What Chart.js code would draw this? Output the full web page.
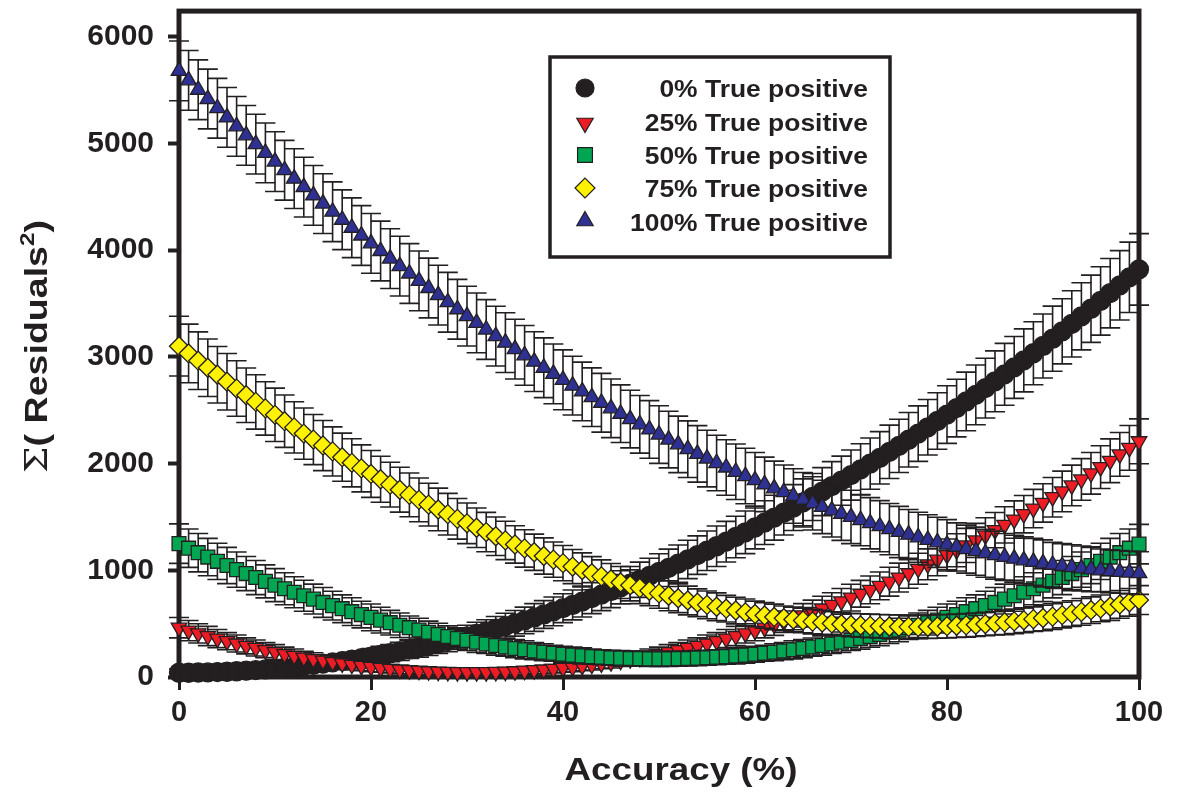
<!DOCTYPE html>
<html>
<head>
<meta charset="utf-8">
<script src="https://cdn.jsdelivr.net/npm/chart.js@4/dist/chart.umd.min.js"></script>
<style>
html,body{margin:0;padding:0;background:#ffffff;}
canvas{display:block;}
</style>
</head>
<body>
<canvas id="c" width="1179" height="800"></canvas>
<script>
// ---------- DATA ----------
const accuracy = [0,1,2,3,4,5,6,7,8,9,10,11,12,13,14,15,16,17,18,19,20,21,22,23,24,25,26,27,28,29,30,31,32,33,34,35,36,37,38,39,40,41,42,43,44,45,46,47,48,49,50,51,52,53,54,55,56,57,58,59,60,61,62,63,64,65,66,67,68,69,70,71,72,73,74,75,76,77,78,79,80,81,82,83,84,85,86,87,88,89,90,91,92,93,94,95,96,97,98,99,100];

const xTicks = [0, 20, 40, 60, 80, 100];
const yTicks = [0, 1000, 2000, 3000, 4000, 5000, 6000];

const seriesNames = ['0% True positive', '25% True positive', '50% True positive', '75% True positive', '100% True positive'];

const xTitle = 'Accuracy (%)';
const yTitleParts = ['\u03A3', '( Residuals', '2', ')'];

// 0% true positive
const tp0 = [40,40,42,43,46,49,54,59,64,71,
78,86,94,104,114,125,137,149,162,176,
191,207,223,240,258,276,296,316,336,358,
380,403,427,452,477,503,530,558,586,615,
645,675,707,739,772,805,840,875,911,948,
985,1023,1062,1102,1142,1183,1225,1268,1312,1356,
1401,1447,1493,1540,1588,1637,1687,1737,1788,1840,
1892,1946,2000,2054,2110,2166,2223,2281,2340,2399,
2459,2520,2582,2644,2707,2771,2836,2901,2967,3034,
3102,3170,3239,3309,3380,3451,3524,3597,3670,3745,
3820];
const tp0Err = [35,35,35,35,35,40,40,40,45,45,
50,50,50,55,60,60,65,65,70,70,
75,80,80,85,85,90,95,95,100,100,
105,110,110,115,120,120,125,130,130,135,
135,140,145,145,150,155,155,160,165,165,
170,175,175,180,180,185,190,190,195,200,
200,205,210,210,215,220,220,225,230,230,
235,240,240,245,250,250,255,260,260,265,
270,270,275,280,280,285,290,290,295,295,
300,305,305,310,315,315,320,325,325,330,
335];

// 25% true positive
const tp25 = [462,435,409,384,360,336,314,292,272,252,
233,215,198,182,167,153,139,127,115,104,
94,85,77,70,64,59,54,50,48,46,
45,45,46,48,50,54,59,64,70,77,
85,94,104,115,127,139,153,167,182,198,
215,233,252,272,292,314,336,360,384,409,
435,462,490,518,548,578,610,642,675,709,
744,780,817,854,893,932,972,1014,1056,1099,
1143,1188,1233,1280,1327,1376,1425,1475,1526,1578,
1631,1685,1739,1795,1851,1909,1967,2026,2086,2147,
2209];
const tp25Err = [95,95,90,90,85,80,80,75,75,70,
70,65,65,60,60,55,55,50,50,45,
45,40,40,40,35,35,35,30,30,30,
30,30,30,30,30,35,35,35,40,40,
40,45,45,50,50,55,55,60,60,65,
65,70,70,75,75,80,80,85,90,90,
95,95,100,100,105,110,110,115,115,120,
125,125,130,130,135,135,140,145,145,150,
150,155,160,160,165,165,170,175,175,180,
180,185,190,190,195,195,200,205,205,210,
210];

// 50% true positive
const tp50 = [1250,1207,1165,1124,1084,1045,1006,969,932,896,
861,827,794,761,730,699,669,640,612,585,
559,533,509,485,462,440,419,399,379,361,
343,326,310,295,281,267,255,243,232,222,
213,205,198,191,186,181,177,174,172,170,
170,170,172,174,177,181,186,191,198,205,
213,222,232,243,255,267,281,295,310,326,
343,361,379,399,419,440,462,485,509,533,
559,585,612,640,669,699,730,761,794,827,
861,896,932,969,1006,1045,1084,1124,1165,1207,
1245];
const tp50Err = [185,180,180,175,170,170,165,160,160,155,
155,150,145,145,140,140,135,130,130,125,
125,120,115,115,110,110,105,105,100,100,
95,95,90,90,85,85,85,80,80,75,
75,75,75,70,70,70,70,70,70,70,
70,70,70,70,70,70,70,70,75,75,
75,75,80,80,85,85,85,90,90,95,
95,100,100,105,105,110,110,115,115,120,
125,125,130,130,135,140,140,145,145,150,
155,155,160,160,165,170,170,175,180,180,
185];

// 75% true positive
const tp75 = [3100,3032,2964,2898,2832,2767,2703,2640,2578,2517,
2457,2397,2339,2281,2225,2169,2114,2060,2007,1955,
1903,1853,1803,1755,1707,1660,1615,1570,1526,1482,
1440,1399,1358,1319,1280,1242,1205,1169,1134,1100,
1067,1035,1003,973,943,914,886,859,833,808,
784,761,738,717,696,676,658,640,623,606,
591,577,563,551,539,529,519,510,502,495,
488,483,479,475,473,471,470,470,471,473,
476,480,484,490,496,503,512,521,531,542,
553,566,580,594,610,626,643,661,680,700,
721];
const tp75Err = [280,275,270,270,265,265,260,255,255,250,
250,245,240,240,235,235,230,225,225,220,
220,215,210,210,205,205,200,200,195,190,
190,185,185,180,180,175,175,170,170,165,
165,160,160,155,155,150,150,145,145,140,
140,140,135,135,130,130,130,125,125,125,
120,120,120,115,115,115,115,115,110,110,
110,110,110,110,110,110,110,110,110,110,
110,110,110,110,110,110,115,115,115,115,
120,120,120,120,125,125,125,130,130,130,
135];

// 100% true positive
const tp100 = [5680,5591,5503,5416,5330,5244,5160,5076,4993,4911,
4830,4749,4670,4591,4513,4436,4360,4285,4210,4137,
4064,3992,3921,3850,3781,3712,3645,3578,3512,3446,
3382,3319,3256,3194,3133,3073,3014,2955,2898,2841,
2785,2730,2676,2622,2570,2518,2467,2417,2368,2320,
2272,2225,2180,2135,2091,2047,2005,1963,1923,1883,
1844,1805,1768,1732,1696,1661,1627,1594,1562,1530,
1500,1470,1441,1413,1386,1359,1334,1309,1285,1262,
1240,1219,1198,1179,1160,1142,1125,1109,1093,1079,
1065,1052,1040,1029,1018,1009,1000,992,985,979,
974];
const tp100Err = [280,280,280,280,280,280,280,280,280,280,
280,280,280,280,280,280,280,280,280,280,
280,280,280,280,280,280,280,280,280,280,
280,280,280,280,280,280,280,280,280,280,
280,275,275,275,275,275,270,270,270,270,
270,265,265,265,265,265,260,260,260,260,
260,255,255,255,255,255,250,250,250,250,
250,240,240,240,240,240,235,235,235,235,
235,225,225,225,225,225,220,220,220,220,
220,210,210,210,210,210,200,200,200,200,
200];

// ---------- STYLE ----------
const DARK = '#231f20';
const FONT = '"Liberation Sans", Arial, Helvetica, sans-serif';
const seriesValues = [tp0, tp25, tp50, tp75, tp100];
const seriesErrors = [tp0Err, tp25Err, tp50Err, tp75Err, tp100Err];
const seriesStyle = [
  {pointStyle: 'circle',   rotation: 0,   radius: 9.5, legendRadius: 9,    color: '#231f20'},
  {pointStyle: 'triangle', rotation: 180, radius: 9,   legendRadius: 9.5,  color: '#ed1c24'},
  {pointStyle: 'rect',     rotation: 0,   radius: 9.8, legendRadius: 10.5, color: '#00a651'},
  {pointStyle: 'rectRot',  rotation: 0,   radius: 9.5, legendRadius: 10,   color: '#fff200'},
  {pointStyle: 'triangle', rotation: 0,   radius: 9,   legendRadius: 9.5,  color: '#2e3192'}
];

const datasets = seriesValues.map((vals, s) => ({
  label: seriesNames[s],
  data: accuracy.map((x, i) => ({x: x, y: vals[i]})),
  showLine: false,
  pointStyle: seriesStyle[s].pointStyle,
  pointRotation: seriesStyle[s].rotation,
  pointRadius: seriesStyle[s].radius,
  pointHoverRadius: seriesStyle[s].radius,
  pointBackgroundColor: seriesStyle[s].color,
  pointBorderColor: DARK,
  pointBorderWidth: 1.3,
  backgroundColor: seriesStyle[s].color,
  borderColor: DARK,
  clip: false,
  order: seriesValues.length - 1 - s
}));

// error bars, drawn just before each series' markers
const errorBarPlugin = {
  id: 'errorBars',
  beforeDatasetDraw(chart, args) {
    const idx = args.index;
    const errs = seriesErrors[idx];
    const vals = seriesValues[idx];
    const ys = chart.scales.y;
    const ctx = chart.ctx;
    ctx.save();
    ctx.strokeStyle = DARK;
    ctx.lineWidth = 1.6;
    args.meta.data.forEach((pt, i) => {
      const top = ys.getPixelForValue(vals[i] + errs[i]);
      const bot = ys.getPixelForValue(vals[i] - errs[i]);
      const x = pt.x;
      ctx.beginPath();
      ctx.moveTo(x, top); ctx.lineTo(x, bot);
      ctx.moveTo(x - 10, top); ctx.lineTo(x + 10, top);
      ctx.moveTo(x - 10, bot); ctx.lineTo(x + 10, bot);
      ctx.stroke();
    });
    ctx.restore();
  }
};

// frame (full box) drawn under the data
const framePlugin = {
  id: 'frame',
  beforeDatasetsDraw(chart) {
    const ca = chart.chartArea;
    const ctx = chart.ctx;
    ctx.save();
    ctx.strokeStyle = DARK;
    ctx.lineWidth = 5;
    ctx.lineJoin = 'miter';
    ctx.strokeRect(ca.left, ca.top, ca.right - ca.left, ca.bottom - ca.top);
    ctx.restore();
  }
};

function drawMarker(ctx, style, r, x, y) {
  const H = Chart.helpers;
  ctx.fillStyle = style.color;
  ctx.strokeStyle = DARK;
  ctx.lineWidth = 1.2;
  H.drawPoint(ctx, {pointStyle: style.pointStyle, rotation: style.rotation, radius: r, borderWidth: 1.2}, x, y);
}

// titles and legend
const textPlugin = {
  id: 'texts',
  afterDraw(chart) {
    const ctx = chart.ctx;
    ctx.save();
    ctx.fillStyle = DARK;

    // x title
    ctx.font = 'bold 31px ' + FONT;
    const wx = ctx.measureText(xTitle).width;
    ctx.save();
    ctx.translate(681, 780);
    ctx.scale(233 / wx, 1);
    ctx.textAlign = 'center';
    ctx.textBaseline = 'alphabetic';
    ctx.fillText(xTitle, 0, 0);
    ctx.restore();

    // y title (rotated)
    const fonts = ['31px "DejaVu Serif", "Liberation Serif", serif', 'bold 31px ' + FONT, 'bold 20px ' + FONT, 'bold 31px ' + FONT];
    const dy = [0, 0, -13, 0];
    let widths = yTitleParts.map((t, i) => { ctx.font = fonts[i]; return ctx.measureText(t).width; });
    const total = widths.reduce((a, b) => a + b, 0);
    ctx.save();
    ctx.translate(47, 473);
    ctx.rotate(-Math.PI / 2);
    ctx.scale(253 / total, 1);
    ctx.textAlign = 'left';
    ctx.textBaseline = 'alphabetic';
    let px = 0;
    yTitleParts.forEach((t, i) => {
      ctx.font = fonts[i];
      ctx.fillText(t, px, dy[i]);
      px += widths[i];
    });
    ctx.restore();

    // legend box
    ctx.save();
    ctx.fillStyle = '#ffffff';
    ctx.fillRect(550, 57, 340, 200);
    ctx.strokeStyle = DARK;
    ctx.lineWidth = 3.5;
    ctx.strokeRect(550, 57, 340, 200);
    ctx.restore();

    const rowsY = [88, 122, 155, 188, 222];
    ctx.font = 'bold 24px ' + FONT;
    const ref = ctx.measureText(seriesNames[4]).width;
    const k = 238 / ref;
    seriesNames.forEach((name, s) => {
      ctx.save();
      drawMarker(ctx, seriesStyle[s], seriesStyle[s].legendRadius, 585, rowsY[s] + (s === 1 ? 1 : (s === 4 ? -1 : 0)));
      ctx.restore();
      ctx.save();
      ctx.fillStyle = DARK;
      ctx.font = 'bold 24px ' + FONT;
      ctx.translate(868, rowsY[s] + 8.5);
      ctx.scale(k, 1);
      ctx.textAlign = 'right';
      ctx.textBaseline = 'alphabetic';
      ctx.fillText(name, 0, 0);
      ctx.restore();
    });
    ctx.restore();
  }
};

new Chart(document.getElementById('c'), {
  type: 'scatter',
  data: {datasets: datasets},
  options: {
    responsive: false,
    devicePixelRatio: 1,
    animation: false,
    events: [],
    layout: {padding: {left: 0, top: 8, right: 40, bottom: 0}},
    plugins: {legend: {display: false}, tooltip: {enabled: false}},
    scales: {
      x: {
        type: 'linear',
        min: 0, max: 100,
        afterBuildTicks: s => { s.ticks = xTicks.map(v => ({value: v})); },
        afterFit: s => { s.height = 123; s.paddingLeft = 0; s.paddingRight = 0; },
        ticks: {font: {family: FONT, size: 29, weight: 'bold'}, color: DARK, padding: 6, maxRotation: 0, autoSkip: false,
                callback: v => String(v)},
        grid: {drawOnChartArea: false, drawTicks: true, tickLength: 13, tickWidth: 3, tickColor: DARK, color: DARK},
        border: {display: false}
      },
      y: {
        type: 'linear',
        min: 0, max: 6240,
        afterBuildTicks: s => { s.ticks = yTicks.map(v => ({value: v})); },
        afterFit: s => { s.width = 179; s.paddingTop = 0; s.paddingBottom = 0; },
        ticks: {font: {family: FONT, size: 30, weight: 'bold'}, color: DARK, padding: 14, autoSkip: false,
                callback: v => String(v)},
        grid: {drawOnChartArea: false, drawTicks: true, tickLength: 11, tickWidth: 4, tickColor: DARK, color: DARK},
        border: {display: false}
      }
    }
  },
  plugins: [framePlugin, errorBarPlugin, textPlugin]
});
</script>
</body>
</html>
